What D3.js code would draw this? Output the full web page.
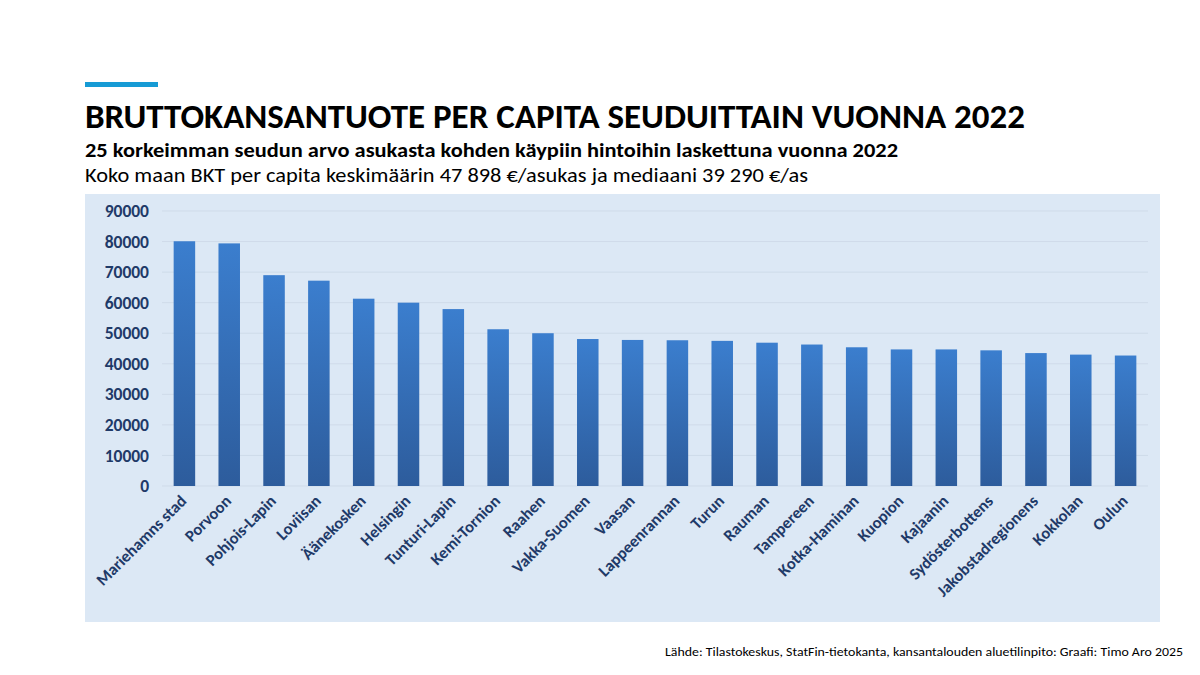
<!DOCTYPE html>
<html>
<head>
<meta charset="utf-8">
<script src="https://cdn.jsdelivr.net/npm/d3@7"></script>
<style>
  body { margin: 0; background: #ffffff; }
  svg { display: block; }
</style>
</head>
<body>
<script>
// regions (seutukunta) and GDP per capita 2022, €/asukas
var regions = ["Mariehamns stad", "Porvoon", "Pohjois-Lapin", "Loviisan", "Äänekosken",
    "Helsingin", "Tunturi-Lapin", "Kemi-Tornion", "Raahen", "Vakka-Suomen", "Vaasan",
    "Lappeenrannan", "Turun", "Rauman", "Tampereen", "Kotka-Haminan", "Kuopion",
    "Kajaanin", "Sydösterbottens", "Jakobstadregionens", "Kokkolan", "Oulun"];
var gdpValues = [80100, 79400, 69000, 67200, 61300, 60000, 57900, 51300, 50000, 48100, 47800,
    47700, 47500, 46900, 46300, 45400, 44700, 44700, 44400, 43500, 43000, 42700];
var yTicks = [0, 10000, 20000, 30000, 40000, 50000, 60000, 70000, 80000, 90000];

var title = "BRUTTOKANSANTUOTE PER CAPITA SEUDUITTAIN VUONNA 2022";
var subtitle1 = "25 korkeimman seudun arvo asukasta kohden käypiin hintoihin laskettuna vuonna 2022";
var subtitle2 = "Koko maan BKT per capita keskimäärin 47 898 €/asukas ja mediaani 39 290 €/as";
var source = "Lähde: Tilastokeskus, StatFin-tietokanta, kansantalouden aluetilinpito: Graafi: Timo Aro 2025";

const width = 1200;
const height = 675;
const font = "Carlito, Calibri, 'Open Sans', sans-serif";

var svg = d3.select("body").append("svg")
    .attr("width", width)
    .attr("height", height);

// gradient for bars
var defs = svg.append("defs");
var grad = defs.append("linearGradient")
    .attr("id", "barGrad")
    .attr("x1", 0).attr("y1", 0).attr("x2", 0).attr("y2", 1);
grad.append("stop").attr("offset", "0%").attr("stop-color", "#3b7ece");
grad.append("stop").attr("offset", "100%").attr("stop-color", "#2d5c9c");

// header
svg.append("rect")
    .attr("x", 85).attr("y", 82)
    .attr("width", 73).attr("height", 5)
    .attr("fill", "#169bd5");

svg.append("text")
    .attr("x", 85).attr("y", 128)
    .attr("font-family", font)
    .attr("font-size", 34)
    .attr("font-weight", "bold")
    .attr("fill", "#000")
    .attr("textLength", 940)
    .attr("lengthAdjust", "spacingAndGlyphs")
    .text(title);

svg.append("text")
    .attr("x", 85).attr("y", 157)
    .attr("font-family", font)
    .attr("font-size", 20)
    .attr("font-weight", "bold")
    .attr("fill", "#000")
    .attr("textLength", 813)
    .attr("lengthAdjust", "spacingAndGlyphs")
    .text(subtitle1);

svg.append("text")
    .attr("x", 85).attr("y", 182)
    .attr("font-family", font)
    .attr("font-size", 20)
    .attr("fill", "#000")
    .attr("textLength", 723)
    .attr("lengthAdjust", "spacingAndGlyphs")
    .text(subtitle2);

// chart panel
svg.append("rect")
    .attr("x", 85).attr("y", 194)
    .attr("width", 1075).attr("height", 428)
    .attr("fill", "#dce8f5");

var margin = { left: 162, right: 1148, top: 211, bottom: 486 };

var x = d3.scaleBand()
    .domain(regions)
    .range([margin.left, margin.right])
    .paddingInner(0.52)
    .paddingOuter(0.26);

var y = d3.scaleLinear()
    .domain([0, 90000])
    .range([margin.bottom, margin.top]);

// gridlines
svg.append("g")
    .selectAll("line")
    .data(yTicks)
    .enter()
    .append("line")
    .attr("x1", margin.left)
    .attr("x2", margin.right)
    .attr("y1", function(d) { return y(d); })
    .attr("y2", function(d) { return y(d); })
    .attr("stroke", "#cfdbe9")
    .attr("stroke-width", 1);

// y axis
var yAxis = svg.append("g")
    .attr("transform", "translate(" + (margin.left - 13) + ",0)")
    .call(d3.axisLeft(y).tickValues(yTicks).tickSize(0).tickPadding(0).tickFormat(d3.format("d")));
yAxis.select(".domain").remove();
yAxis.selectAll("text")
    .attr("font-family", font)
    .attr("font-size", 17.5)
    .attr("font-weight", "bold")
    .attr("fill", "#1f3a68");

// bars
svg.append("g")
    .selectAll("rect")
    .data(gdpValues)
    .enter()
    .append("rect")
    .attr("x", function(d, i) { return x(regions[i]); })
    .attr("y", function(d) { return y(d); })
    .attr("width", x.bandwidth())
    .attr("height", function(d) { return y(0) - y(d); })
    .attr("fill", "url(#barGrad)");

// x labels
svg.append("g")
    .selectAll("text")
    .data(regions)
    .enter()
    .append("text")
    .attr("transform", function(d) {
        return "translate(" + (x(d) + x.bandwidth() / 2 - 1) + "," + (margin.bottom + 12) + ") rotate(-45)";
    })
    .attr("text-anchor", "end")
    .attr("dy", "0.35em")
    .attr("font-family", font)
    .attr("font-size", 16.5)
    .attr("font-weight", "bold")
    .attr("fill", "#1f3a68")
    .text(function(d) { return d; });

// source
svg.append("text")
    .attr("x", 1183).attr("y", 656)
    .attr("text-anchor", "end")
    .attr("font-family", font)
    .attr("font-size", 13)
    .attr("fill", "#000")
    .attr("textLength", 518)
    .attr("lengthAdjust", "spacingAndGlyphs")
    .text(source);
</script>
</body>
</html>
